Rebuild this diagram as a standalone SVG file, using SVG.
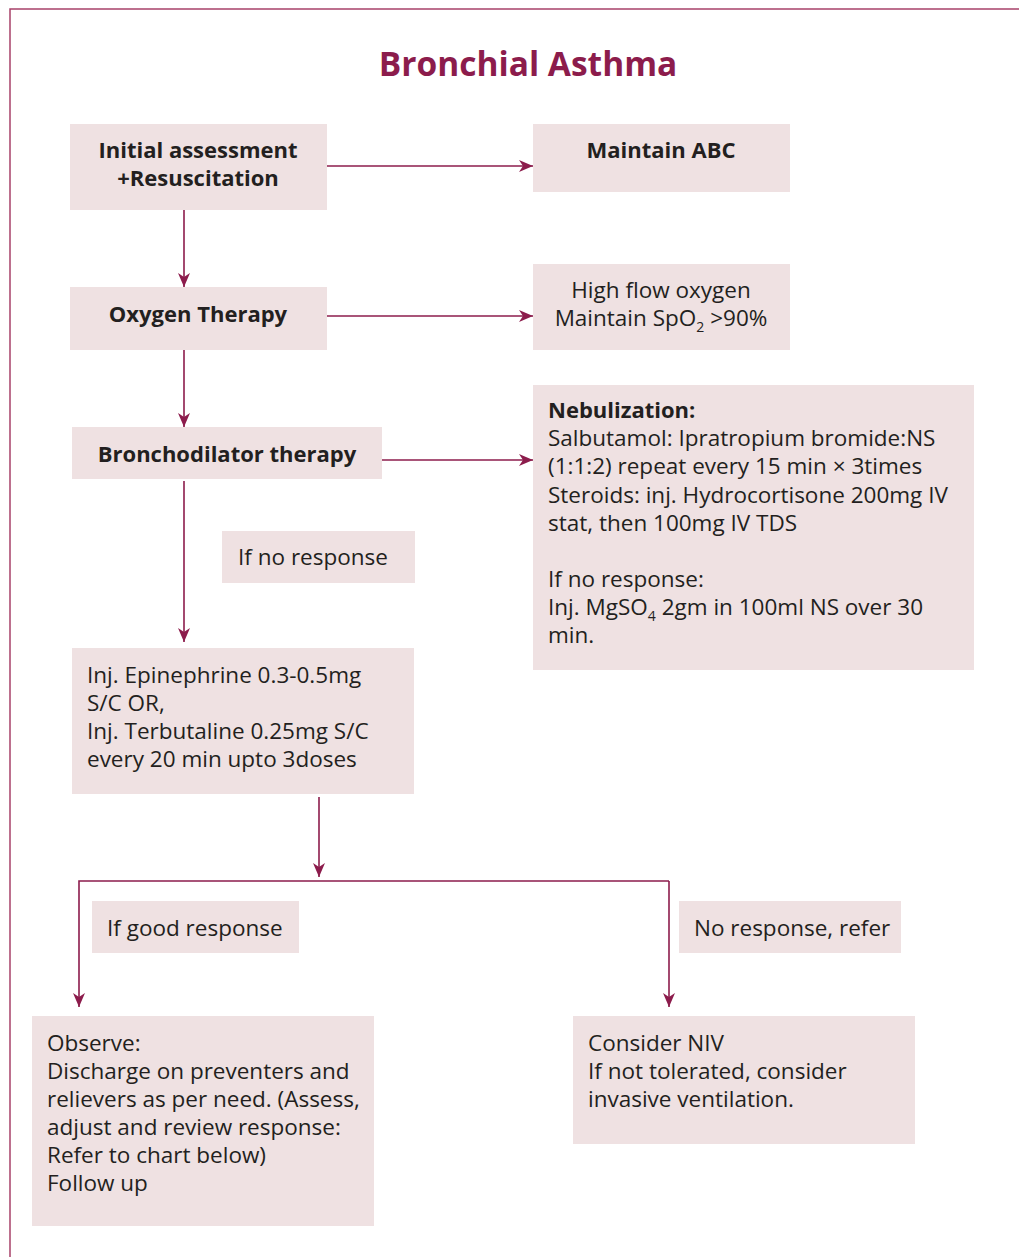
<svg xmlns="http://www.w3.org/2000/svg" width="1019" height="1257" viewBox="0 0 1019 1257">
  <style>
    .box { fill: #efe1e2; }
    .t { font-family: "Open Sans", "Liberation Sans", sans-serif; font-size: 22.5px; fill: #231f20; }
    .b { font-weight: bold; font-size: 22px; }
    .title { font-family: "Open Sans", "Liberation Sans", sans-serif; font-size: 33.5px; font-weight: bold; fill: #8c1c4c; }
    .edge { fill: none; stroke: #8c1c4c; stroke-width: 1.6; }
    .frame { fill: none; stroke: #a8416a; stroke-width: 1.5; }
  </style>
  <defs>
    <marker id="arrow" viewBox="0 0 14 12" refX="14" refY="6" markerWidth="14" markerHeight="12" markerUnits="userSpaceOnUse" orient="auto">
      <path d="M0,0 L14,6 L0,12 L4,6 Z" fill="#8c1c4c"/>
    </marker>
  </defs>

  <rect width="1019" height="1257" fill="#ffffff"/>
  <path class="frame" d="M1019,9 H10 V1257"/>

  <text class="title" x="528" y="76" text-anchor="middle">Bronchial Asthma</text>

  <g id="connectors">
    <line class="edge" x1="327" y1="166" x2="533" y2="166" marker-end="url(#arrow)"/>
    <line class="edge" x1="184" y1="210" x2="184" y2="287" marker-end="url(#arrow)"/>
    <line class="edge" x1="327" y1="316" x2="533" y2="316" marker-end="url(#arrow)"/>
    <line class="edge" x1="184" y1="350" x2="184" y2="427" marker-end="url(#arrow)"/>
    <line class="edge" x1="382" y1="460" x2="533" y2="460" marker-end="url(#arrow)"/>
    <line class="edge" x1="184" y1="481" x2="184" y2="642" marker-end="url(#arrow)"/>
    <line class="edge" x1="319" y1="797" x2="319" y2="877" marker-end="url(#arrow)"/>
    <path class="edge" d="M669,881 H79 V1007" marker-end="url(#arrow)"/>
    <line class="edge" x1="669" y1="881" x2="669" y2="1007" marker-end="url(#arrow)"/>
  </g>

  <g id="initial-assessment">
    <rect class="box" x="70" y="124" width="257" height="86"/>
    <text class="t b" x="198" y="158" text-anchor="middle">Initial assessment</text>
    <text class="t b" x="198" y="186" text-anchor="middle">+Resuscitation</text>
  </g>

  <g id="maintain-abc">
    <rect class="box" x="533" y="124" width="257" height="68"/>
    <text class="t b" x="661" y="158" text-anchor="middle">Maintain ABC</text>
  </g>

  <g id="oxygen-therapy">
    <rect class="box" x="70" y="287" width="257" height="63"/>
    <text class="t b" x="198" y="322" text-anchor="middle">Oxygen Therapy</text>
  </g>

  <g id="high-flow-oxygen">
    <rect class="box" x="533" y="264" width="257" height="86"/>
    <text class="t" x="661" y="298" text-anchor="middle">High flow oxygen</text>
    <text class="t" x="661" y="326" text-anchor="middle">Maintain SpO<tspan font-size="14" dy="6">2</tspan><tspan dy="-6"> &gt;90%</tspan></text>
  </g>

  <g id="bronchodilator-therapy">
    <rect class="box" x="72" y="427" width="310" height="52"/>
    <text class="t b" x="227" y="462" text-anchor="middle">Bronchodilator therapy</text>
  </g>

  <g id="nebulization">
    <rect class="box" x="533" y="385" width="441" height="285"/>
    <text class="t b" x="548" y="418">Nebulization:</text>
    <text class="t" x="548" y="446">Salbutamol: Ipratropium bromide:NS</text>
    <text class="t" x="548" y="474">(1:1:2) repeat every 15 min × 3times</text>
    <text class="t" x="548" y="503">Steroids: inj. Hydrocortisone 200mg IV</text>
    <text class="t" x="548" y="531">stat, then 100mg IV TDS</text>
    <text class="t" x="548" y="587">If no response:</text>
    <text class="t" x="548" y="615">Inj. MgSO<tspan font-size="14" dy="6">4</tspan><tspan dy="-6"> 2gm in 100ml NS over 30</tspan></text>
    <text class="t" x="548" y="643">min.</text>
  </g>

  <g id="if-no-response">
    <rect class="box" x="222" y="531" width="193" height="52"/>
    <text class="t" x="238" y="565">If no response</text>
  </g>

  <g id="epinephrine">
    <rect class="box" x="72" y="648" width="342" height="146"/>
    <text class="t" x="87" y="683">Inj. Epinephrine 0.3-0.5mg</text>
    <text class="t" x="87" y="711">S/C OR,</text>
    <text class="t" x="87" y="739">Inj. Terbutaline 0.25mg S/C</text>
    <text class="t" x="87" y="767">every 20 min upto 3doses</text>
  </g>

  <g id="if-good-response">
    <rect class="box" x="92" y="901" width="207" height="52"/>
    <text class="t" x="107" y="936">If good response</text>
  </g>

  <g id="no-response-refer">
    <rect class="box" x="679" y="901" width="222" height="52"/>
    <text class="t" x="694" y="936">No response, refer</text>
  </g>

  <g id="observe">
    <rect class="box" x="32" y="1016" width="342" height="210"/>
    <text class="t" x="47" y="1051">Observe:</text>
    <text class="t" x="47" y="1079">Discharge on preventers and</text>
    <text class="t" x="47" y="1107">relievers as per need. (Assess,</text>
    <text class="t" x="47" y="1135">adjust and review response:</text>
    <text class="t" x="47" y="1163">Refer to chart below)</text>
    <text class="t" x="47" y="1191">Follow up</text>
  </g>

  <g id="consider-niv">
    <rect class="box" x="573" y="1016" width="342" height="128"/>
    <text class="t" x="588" y="1051">Consider NIV</text>
    <text class="t" x="588" y="1079">If not tolerated, consider</text>
    <text class="t" x="588" y="1107">invasive ventilation.</text>
  </g>
</svg>
